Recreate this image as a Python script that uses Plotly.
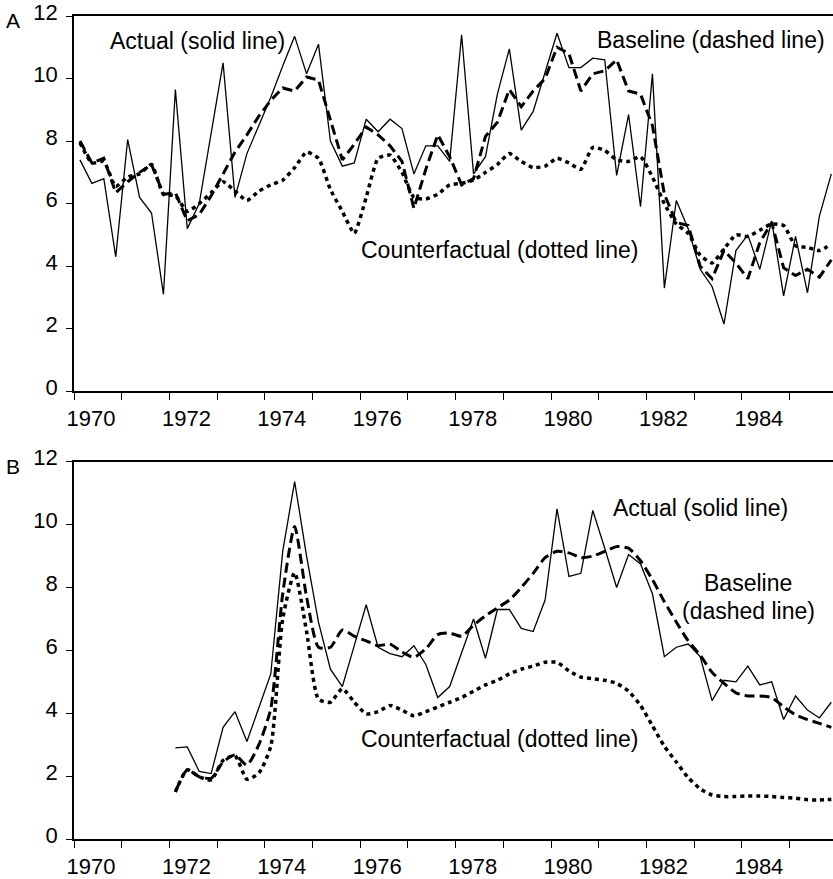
import plotly.graph_objects as go

# ---------------- data ----------------
# Quarterly observations (mid-quarter), Panel A: 1970Q1-1985Q4, Panel B: 1972Q1-1985Q4
years_a = [y + (q - 0.5) / 4 for y in range(1970, 1986) for q in range(1, 5)]
years_b = [y + (q - 0.5) / 4 for y in range(1972, 1986) for q in range(1, 5)]

actual_a = [7.4, 6.65, 6.8, 4.3, 8.05, 6.2, 5.7, 3.1, 9.65, 5.2, 6.0, 8.3,
            10.5, 6.2, 7.6, 8.5, 9.4, 10.4, 11.35, 10.15, 11.1, 8.0, 7.2, 7.3,
            8.7, 8.3, 8.7, 8.4, 6.95, 7.85, 7.85, 7.35, 11.4, 6.95, 7.5, 9.5,
            10.95, 8.35, 8.95, 10.2, 11.45, 10.35, 10.35, 10.65, 10.6, 6.9, 8.85, 5.9,
            10.15, 3.3, 6.1, 5.2, 3.9, 3.35, 2.15, 4.5, 5.0, 3.9, 5.45, 3.05,
            4.95, 3.15, 5.6, 6.95]
baseline_a = [8.0, 7.3, 7.45, 6.35, 6.7, 7.0, 7.25, 6.3, 6.35, 5.45, 5.65, 6.25,
              6.95, 7.65, 8.2, 8.8, 9.3, 9.7, 9.6, 10.05, 9.95, 8.7, 7.4, 7.9,
              8.45, 8.2, 7.85, 7.35, 5.85, 7.1, 8.2, 7.5, 6.6, 6.8, 8.15, 8.6,
              9.65, 9.1, 9.6, 10.0, 11.0, 10.8, 9.6, 10.15, 10.25, 10.6, 9.6, 9.5,
              8.5, 6.3, 5.4, 5.3, 4.0, 3.6, 4.5, 4.1, 3.6, 4.75, 5.4, 3.95,
              3.7, 3.9, 3.65, 4.2]
counter_a = [7.95, 7.3, 7.35, 6.55, 6.85, 6.95, 7.25, 6.3, 6.25, 5.75, 6.0, 6.35,
             6.7, 6.4, 6.1, 6.4, 6.6, 6.75, 7.15, 7.65, 7.45, 6.45, 5.75, 5.05,
             6.2, 7.45, 7.55, 7.0, 6.2, 6.15, 6.3, 6.6, 6.65, 6.75, 7.0, 7.25,
             7.6, 7.35, 7.15, 7.2, 7.45, 7.3, 7.1, 7.8, 7.7, 7.4, 7.35, 7.5,
             6.85, 6.0, 5.35, 5.05, 4.35, 4.1, 4.55, 5.0, 4.95, 5.15, 5.35, 5.3,
             4.65, 4.6, 4.5, 4.7]

actual_b = [2.9, 2.93, 2.15, 2.08, 3.55, 4.05, 3.1, 4.2, 5.25, 9.15, 11.37, 9.0,
            6.9, 5.4, 4.85, 6.15, 7.45, 6.1, 5.9, 5.8, 6.15, 5.55, 4.5, 4.85,
            5.9, 7.0, 5.75, 7.3, 7.3, 6.7, 6.6, 7.6, 10.5, 8.35, 8.45, 10.45,
            9.25, 8.0, 9.05, 8.75, 7.8, 5.8, 6.1, 6.2, 5.8, 4.4, 5.05, 5.0,
            5.5, 4.9, 5.0, 3.8, 4.55, 4.1, 3.85, 4.35]
baseline_b = [1.5, 2.2, 1.98, 1.93, 2.45, 2.67, 2.35, 3.0, 4.15, 7.8, 9.94, 7.7,
              6.1, 6.1, 6.65, 6.45, 6.3, 6.15, 6.2, 5.95, 5.78, 6.05, 6.5, 6.55,
              6.45, 6.8, 7.1, 7.35, 7.6, 8.0, 8.45, 8.95, 9.15, 9.1, 8.95, 9.0,
              9.15, 9.3, 9.25, 8.85, 8.25, 7.55, 6.9, 6.3, 5.85, 5.3, 4.95, 4.65,
              4.55, 4.55, 4.5, 4.2, 3.95, 3.8, 3.68, 3.55]
counter_b = [1.5, 2.2, 1.98, 1.88, 2.5, 2.65, 1.9, 2.1, 2.95, 7.0, 8.47, 6.6,
             4.45, 4.35, 4.78, 4.35, 3.98, 4.05, 4.25, 4.1, 3.92, 4.05, 4.2, 4.35,
             4.5, 4.7, 4.9, 5.05, 5.25, 5.4, 5.5, 5.62, 5.62, 5.35, 5.15, 5.1,
             5.05, 4.95, 4.7, 4.25, 3.6, 2.95, 2.45, 1.95, 1.6, 1.4, 1.35, 1.35,
             1.37, 1.37, 1.35, 1.32, 1.3, 1.25, 1.24, 1.26]

y_ticks = [0, 2, 4, 6, 8, 10, 12]
x_ticks = [1970, 1972, 1974, 1976, 1978, 1980, 1982, 1984]

# ---------------- figure ----------------
FONT = "Liberation Sans, Arial, sans-serif"
W, H = 833, 879
ML, MR, MT, MB = 74, 0, 12, 38
ph = H - MT - MB

def py(pix):  # pixel row -> paper y
    return (H - MB - pix) / ph

fig = go.Figure()

solid = dict(color="black", width=1.3)
dashed = dict(color="black", width=3, dash="10px,5px")
dotted = dict(color="black", width=3.5, dash="4px,4px")

fig.add_trace(go.Scatter(x=years_a, y=actual_a, mode="lines", line=solid, xaxis="x", yaxis="y"))
fig.add_trace(go.Scatter(x=years_a, y=baseline_a, mode="lines", line=dashed, xaxis="x", yaxis="y"))
fig.add_trace(go.Scatter(x=years_a, y=counter_a, mode="lines",
                         line=dict(dotted, shape="spline", smoothing=0.5), xaxis="x", yaxis="y"))

fig.add_trace(go.Scatter(x=years_b, y=actual_b, mode="lines", line=solid, xaxis="x2", yaxis="y2"))
fig.add_trace(go.Scatter(x=years_b, y=baseline_b, mode="lines",
                         line=dict(dashed, shape="spline", smoothing=0.6), xaxis="x2", yaxis="y2"))
fig.add_trace(go.Scatter(x=years_b, y=counter_b, mode="lines",
                         line=dict(dotted, shape="spline", smoothing=0.6), xaxis="x2", yaxis="y2"))

xr = [1970, 1985.91]
xcommon = dict(range=xr, tickmode="array", tickvals=x_ticks, ticks="outside", ticklen=7,
               tickwidth=1.3, tickcolor="black", showline=True, linecolor="black", linewidth=1.6,
               mirror=True, showgrid=False, zeroline=False, ticklabelshift=17,
               ticklabeloverflow="allow",
               tickfont=dict(family=FONT, size=22, color="black"),
               minor=dict(dtick=1, tick0=1970, ticks="outside", ticklen=7, tickwidth=1.3,
                          tickcolor="black", showgrid=False))
ycommon = dict(range=[0, 12], tickmode="array", tickvals=y_ticks, ticks="outside", ticklen=6,
               tickwidth=1.3, tickcolor="black", showline=True, linecolor="black", linewidth=1.6,
               showgrid=False, zeroline=False, ticklabelstandoff=4, ticklabelshift=-4,
               ticklabeloverflow="allow",
               tickfont=dict(family=FONT, size=22, color="black"))

fig.update_layout(
    width=W, height=H,
    margin=dict(l=ML, r=MR, t=MT, b=MB),
    paper_bgcolor="white", plot_bgcolor="white",
    showlegend=False,
    xaxis=dict(xcommon, anchor="y"),
    yaxis=dict(ycommon, domain=[py(390), 1.0], anchor="x"),
    xaxis2=dict(xcommon, anchor="y2"),
    yaxis2=dict(ycommon, domain=[0.0, py(461)], anchor="x2"),
)

tf = dict(family=FONT, size=23, color="black")
ann = [
    dict(x=1970.71, y=11.2, xref="x", yref="y", text="Actual (solid line)", xanchor="left"),
    dict(x=1985.79, y=11.24, xref="x", yref="y", text="Baseline (dashed line)", xanchor="right"),
    dict(x=1975.97, y=4.51, xref="x", yref="y", text="Counterfactual (dotted line)", xanchor="left"),
    dict(x=1981.26, y=10.52, xref="x2", yref="y2", text="Actual (solid line)", xanchor="left"),
    dict(x=1984.13, y=8.15, xref="x2", yref="y2", text="Baseline", xanchor="center"),
    dict(x=1984.13, y=7.26, xref="x2", yref="y2", text="(dashed line)", xanchor="center"),
    dict(x=1975.97, y=3.19, xref="x2", yref="y2", text="Counterfactual (dotted line)", xanchor="left"),
]
for a in ann:
    fig.add_annotation(a, yanchor="middle", showarrow=False, font=tf)

lf = dict(family=FONT, size=21, color="black")
lx = (13 - ML) / (W - ML - MR)
fig.add_annotation(x=lx, y=py(17), xref="paper", yref="paper", text="A", showarrow=False,
                   xanchor="center", yanchor="middle", font=lf)
fig.add_annotation(x=lx, y=py(466), xref="paper", yref="paper", text="B", showarrow=False,
                   xanchor="center", yanchor="middle", font=lf)

fig.write_html("out.html", config={"displayModeBar": False},
               post_script="document.body.style.margin='0px';")
